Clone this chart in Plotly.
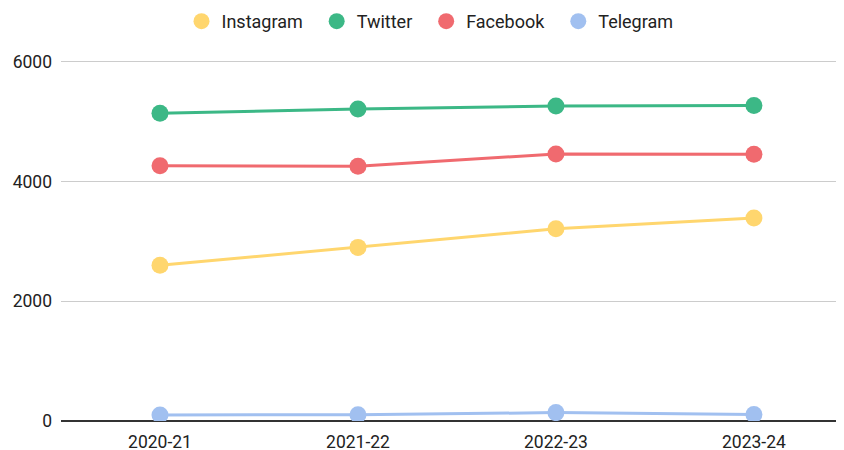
import plotly.graph_objects as go

categories = ["2020-21", "2021-22", "2022-23", "2023-24"]
instagram = [2600, 2900, 3210, 3390]
twitter = [5140, 5210, 5260, 5270]
facebook = [4265, 4255, 4460, 4455]
telegram = [100, 105, 140, 110]
y_ticks = [0, 2000, 4000, 6000]

series = [
    ("Instagram", instagram, "#FFD66E"),
    ("Twitter", twitter, "#3CB886"),
    ("Facebook", facebook, "#F06A6F"),
    ("Telegram", telegram, "#A1C0F0"),
]

fig = go.Figure()
for name, vals, color in series:
    fig.add_trace(go.Scatter(
        x=categories, y=vals, name=name, mode="lines+markers",
        line=dict(color=color, width=3),
        marker=dict(color=color, size=17),
        showlegend=False,
    ))
# legend entries shown as circles only
for name, vals, color in series:
    fig.add_trace(go.Scatter(
        x=[None], y=[None], name=name + "\u00a0\u00a0", mode="markers",
        marker=dict(color=color, size=17),
        showlegend=True,
    ))

# page body has an 8px margin, so the figure is sized to fit the window
fig.update_layout(
    width=836, height=442,
    margin=dict(l=53, r=0, t=51.5, b=28.5, autoexpand=False),
    paper_bgcolor="white", plot_bgcolor="white",
    font=dict(family="Roboto", size=17.5, color="#222222"),
    legend=dict(orientation="h", xref="container", x=173.5 / 836, xanchor="left",
                yref="container", y=1 - 13.5 / 442, yanchor="middle",
                font=dict(size=18), itemsizing="trace",
                itemwidth=30, bgcolor="rgba(0,0,0,0)"),
    xaxis=dict(type="category", range=[-0.5, 3.455], showgrid=False, showline=False,
               ticks="", tickfont=dict(size=17.5), ticklabelstandoff=8),
    yaxis=dict(range=[0, 6030], tickvals=y_ticks, ticktext=[str(v) for v in y_ticks],
               showgrid=True, gridcolor="#CCCCCC", gridwidth=1,
               zeroline=True, zerolinecolor="#333333", zerolinewidth=1.5,
               ticks="", tickfont=dict(size=17.5), ticklabelstandoff=8),
)

fig.write_html("out.html")
